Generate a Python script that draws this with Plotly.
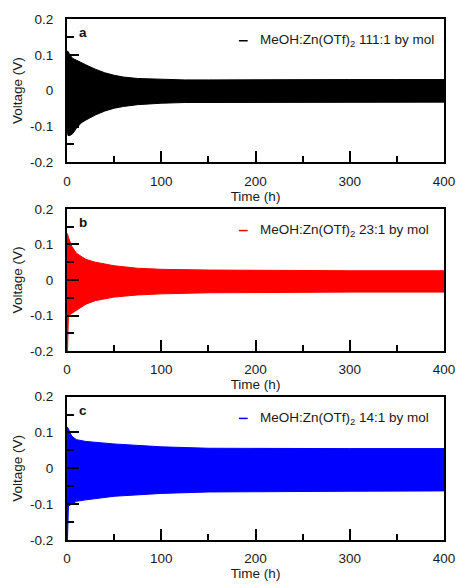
import plotly.graph_objects as go

# ---- data (envelopes of the galvanostatic cycling voltage) ----
t_a = [0, 1, 3, 6, 10, 15, 20, 30, 40, 50, 60, 75, 100, 125, 150, 200, 250, 300, 350, 400]
up_a = [0.11, 0.11, 0.10, 0.09, 0.085, 0.078, 0.072, 0.06, 0.05, 0.043, 0.038, 0.034, 0.031, 0.030, 0.030, 0.031, 0.031, 0.031, 0.031, 0.031]
lo_a = [-0.10, -0.125, -0.125, -0.12, -0.105, -0.09, -0.082, -0.068, -0.057, -0.049, -0.044, -0.039, -0.035, -0.033, -0.032, -0.032, -0.032, -0.032, -0.032, -0.032]

t_b = [0, 0.5, 1.5, 5, 10, 20, 30, 50, 75, 100, 150, 200, 300, 400]
up_b = [0.13, 0.13, 0.12, 0.095, 0.075, 0.058, 0.05, 0.04, 0.033, 0.030, 0.028, 0.027, 0.026, 0.026]
lo_b = [-0.2, -0.2, -0.10, -0.095, -0.085, -0.068, -0.058, -0.048, -0.042, -0.039, -0.036, -0.035, -0.034, -0.034]

t_c = [0, 0.5, 1.5, 5, 10, 20, 50, 100, 150, 200, 300, 400]
up_c = [0.115, 0.115, 0.11, 0.09, 0.08, 0.075, 0.068, 0.060, 0.056, 0.055, 0.055, 0.055]
lo_c = [-0.2, -0.2, -0.105, -0.10, -0.092, -0.088, -0.078, -0.070, -0.066, -0.065, -0.064, -0.063]

labels = ["a", "b", "c"]
legend_texts = ["MeOH:Zn(OTf)<sub>2</sub> 111:1 by mol",
                "MeOH:Zn(OTf)<sub>2</sub> 23:1 by mol",
                "MeOH:Zn(OTf)<sub>2</sub> 14:1 by mol"]
colors = ["#000000", "#ff0000", "#0000ff"]

y_tickvals = [-0.2, -0.1, 0, 0.1, 0.2]
y_ticktext = ["-0.2", "-0.1", "0", "0.1", "0.2"]
x_tickvals = [0, 100, 200, 300, 400]

W, H = 467, 588
L, R, T, B = 67, 14, 17, 44
ph = H - T - B
# panel pixel extents (top, bottom)
panels_px = [(17, 162), (209, 353), (399, 544)]
domains = [[(H - B - b) / ph, (H - B - t) / ph] for (t, b) in panels_px]

FONT = "Liberation Sans, Arial, sans-serif"
FS = 13.5
TXT = "#1a1a1a"
fig = go.Figure()

series = [(t_a, up_a, lo_a), (t_b, up_b, lo_b), (t_c, up_c, lo_c)]
for i, (tt, up, lo) in enumerate(series):
    xs = list(tt) + list(tt[::-1])
    ys = list(up) + list(lo[::-1])
    sfx = "" if i == 0 else str(i + 1)
    fig.add_trace(go.Scatter(x=xs, y=ys, mode="lines", fill="toself",
                             fillcolor=colors[i], line=dict(color=colors[i], width=1),
                             xaxis="x" + sfx, yaxis="y" + sfx, showlegend=False,
                             hoverinfo="skip"))

axis_common = dict(showgrid=False, zeroline=False, showline=True, linecolor="black",
                   linewidth=2, mirror=True, ticks="inside", tickcolor="black",
                   tickwidth=2, tickfont=dict(family=FONT, size=FS, color=TXT))

layout = dict(width=W, height=H, margin=dict(l=L, r=R, t=T, b=B),
              paper_bgcolor="white", plot_bgcolor="white", showlegend=False,
              font=dict(family=FONT, size=FS, color=TXT))
shapes = []
annotations = []
for i in range(3):
    sfx = "" if i == 0 else str(i + 1)
    layout["xaxis" + sfx] = dict(axis_common, domain=[0, 1], anchor="y" + sfx,
                                 range=[0, 400], tickvals=x_tickvals, ticklen=11,
                                 ticklabelstandoff=5,
                                 minor=dict(dtick=50, ticks="inside", ticklen=6,
                                            tickwidth=2, tickcolor="black", showgrid=False),
                                 title=dict(text="Time (h)", standoff=0,
                                            font=dict(family=FONT, size=FS, color=TXT)))
    layout["yaxis" + sfx] = dict(axis_common, domain=domains[i], anchor="x" + sfx,
                                 range=[-0.2, 0.2], tickvals=y_tickvals,
                                 ticktext=y_ticktext, ticklen=12, ticklabelstandoff=9,
                                 minor=dict(tickvals=[-0.15, -0.05, 0.05, 0.15],
                                            ticks="inside", ticklen=7, tickwidth=2,
                                            tickcolor="black", showgrid=False),
                                 title=dict(text="Voltage (V)", standoff=4,
                                            font=dict(family=FONT, size=FS, color=TXT)))
    top_px = panels_px[i][0]
    # panel label
    annotations.append(dict(text="<b>%s</b>" % labels[i], xref="paper", yref="paper",
                            x=(83 - L) / (W - L - R), y=(H - B - (top_px + 14)) / ph,
                            xanchor="center", yanchor="middle", showarrow=False,
                            font=dict(family=FONT, size=FS, color="#111")))
    # legend: short line + text
    ly = (H - B - (top_px + 22)) / ph
    x0 = (243 - L) / (W - L - R)
    x1 = (252 - L) / (W - L - R)
    shapes.append(dict(type="line", xref="paper", yref="paper", x0=x0, x1=x1, y0=ly, y1=ly,
                       line=dict(color=colors[i], width=1.5)))
    annotations.append(dict(text=legend_texts[i], xref="paper", yref="paper",
                            x=(263 - L) / (W - L - R), y=ly, xanchor="left", yanchor="middle",
                            showarrow=False, font=dict(family=FONT, size=FS, color=TXT)))
layout["shapes"] = shapes
layout["annotations"] = annotations
fig.update_layout(**layout)
fig.write_html("out.html")
